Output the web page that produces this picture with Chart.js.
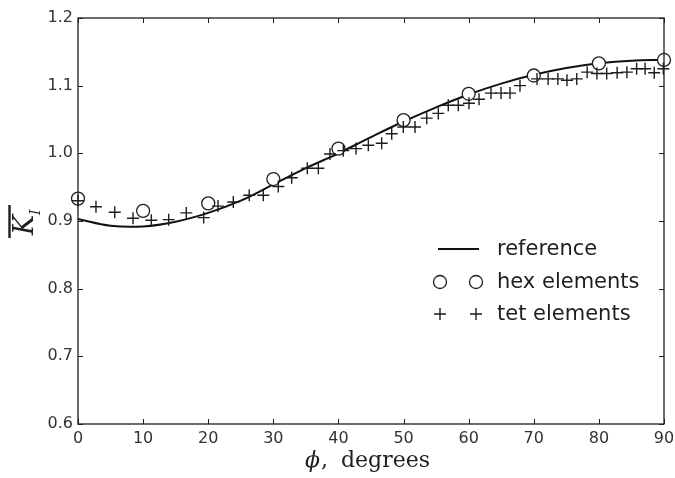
<!DOCTYPE html>
<html>
<head>
<meta charset="utf-8">
<script src="https://cdn.jsdelivr.net/npm/chart.js@4/dist/chart.umd.min.js"></script>
<style>
html,body{margin:0;padding:0;background:#fff;}
#c{display:block;}
</style>
</head>
<body>
<canvas id="c" width="675" height="478"></canvas>
<script>
// ---- data ----
const xTicks = [0,10,20,30,40,50,60,70,80,90];
const yTicks = [0.6,0.7,0.8,0.9,1.0,1.1,1.2];

const refPhi = [0,5,10,15,20,25,30,35,40,45,50,55,60,65,70,75,80,85,90];
const refK   = [0.903,0.893,0.892,0.899,0.912,0.930,0.954,0.978,1.000,1.024,1.047,1.068,1.087,1.103,1.116,1.126,1.133,1.137,1.138];

const hexPhi = [0,10,20,30,40,50,60,70,80,90];
const hexK   = [0.933,0.915,0.926,0.962,1.007,1.049,1.088,1.115,1.133,1.138];

const tetPhi = [0.0,2.76,5.64,8.45,11.26,13.93,16.63,19.3,21.5,23.85,26.3,28.46,30.76,32.82,35.22,36.91,38.7,40.75,42.7,44.59,46.64,48.18,49.96,51.76,53.56,55.34,56.87,58.41,60.05,61.59,63.43,64.97,66.35,67.88,70.5,72.2,73.7,75.1,76.6,78.2,79.7,81.2,82.8,84.3,85.8,87.1,88.5,89.9];
const tetK   = [0.930,0.921,0.913,0.904,0.901,0.902,0.912,0.905,0.922,0.928,0.938,0.938,0.951,0.964,0.978,0.978,0.999,1.004,1.007,1.012,1.015,1.029,1.039,1.039,1.052,1.059,1.071,1.071,1.074,1.080,1.089,1.089,1.089,1.100,1.110,1.110,1.110,1.108,1.110,1.120,1.118,1.118,1.119,1.120,1.125,1.125,1.119,1.125];

const legendLabels = ['reference','hex elements','tet elements'];
const xTitleSymbol = '\u03D5';
const xTitleText = 'degrees';
const yTitleMain = 'K';
const yTitleSub = 'I';

const pts = (xs, ys) => xs.map((v,i)=>({x:v, y:ys[i]}));
const INK = '#1e1e1e';

const decor = {
  id: 'decor',
  afterDraw(chart){
    const ctx = chart.ctx, a = chart.chartArea, xs = chart.scales.x, ys = chart.scales.y;
    ctx.save();
    // frame
    ctx.strokeStyle = INK; ctx.lineWidth = 1.3;
    ctx.strokeRect(a.left, a.top, a.right - a.left, a.bottom - a.top);
    // inward ticks on all four sides
    ctx.lineWidth = 1;
    const tl = 5;
    ctx.beginPath();
    xTicks.forEach(v => {
      const p = Math.round(xs.getPixelForValue(v)) + 0.5;
      ctx.moveTo(p, a.bottom); ctx.lineTo(p, a.bottom - tl);
      ctx.moveTo(p, a.top); ctx.lineTo(p, a.top + tl);
    });
    yTicks.forEach(v => {
      const p = Math.round(ys.getPixelForValue(v)) + 0.5;
      ctx.moveTo(a.left, p); ctx.lineTo(a.left + tl, p);
      ctx.moveTo(a.right, p); ctx.lineTo(a.right - tl, p);
    });
    ctx.stroke();

    // x axis title
    ctx.fillStyle = INK;
    ctx.textBaseline = 'alphabetic';
    ctx.textAlign = 'left';
    const bx = a.left + 227, by = 467;
    ctx.font = 'italic 22px "DejaVu Serif"';
    ctx.fillText(xTitleSymbol, bx, by);
    const wphi = ctx.measureText(xTitleSymbol).width;
    ctx.font = '22px "DejaVu Serif"';
    ctx.fillText(',', bx + wphi + 1, by);
    ctx.fillText(xTitleText, bx + 36, by);

    // y axis title (rotated)
    ctx.save();
    ctx.translate(33, 235);
    ctx.rotate(-Math.PI/2);
    ctx.font = 'italic 27px "DejaVu Serif"';
    ctx.fillText(yTitleMain, 0, 0);
    ctx.font = 'italic 14px "DejaVu Serif"';
    ctx.fillText(yTitleSub, 20, 7);
    ctx.lineWidth = 2.4;
    ctx.beginPath();
    ctx.moveTo(-3, -23.5); ctx.lineTo(30, -23.5);
    ctx.stroke();
    ctx.restore();

    // legend
    const lx = a.left + 360, lx2 = lx + 38, tx = a.left + 419;
    const rows = [249, 282, 314];
    ctx.font = '21px "DejaVu Sans"';
    ctx.textBaseline = 'middle';
    ctx.fillStyle = INK;
    ctx.strokeStyle = '#111'; ctx.lineWidth = 2;
    ctx.beginPath(); ctx.moveTo(lx, rows[0]); ctx.lineTo(lx2 + 3, rows[0]); ctx.stroke();
    ctx.lineWidth = 1.3; ctx.strokeStyle = INK;
    [lx + 2, lx2].forEach(cx => {
      ctx.beginPath(); ctx.arc(cx, rows[1], 6.5, 0, Math.PI*2);
      ctx.fillStyle = '#fff'; ctx.fill(); ctx.stroke();
    });
    ctx.lineWidth = 1.4;
    [lx + 2, lx2].forEach(cx => {
      ctx.beginPath();
      ctx.moveTo(cx - 6, rows[2]); ctx.lineTo(cx + 6, rows[2]);
      ctx.moveTo(cx, rows[2] - 6); ctx.lineTo(cx, rows[2] + 6);
      ctx.stroke();
    });
    ctx.fillStyle = INK;
    legendLabels.forEach((t,i) => ctx.fillText(t, tx, rows[i] + 1));
    ctx.restore();
  }
};

new Chart(document.getElementById('c'), {
  type: 'scatter',
  data: {
    datasets: [
      { label: legendLabels[0], data: pts(refPhi, refK), showLine: true, pointRadius: 0,
        borderColor: '#111', borderWidth: 2, tension: 0.4, order: 3, clip: false },
      { label: legendLabels[1], data: pts(hexPhi, hexK), pointStyle: 'circle', pointRadius: 6.5,
        borderColor: INK, backgroundColor: '#fff', pointBorderWidth: 1.3, order: 2, clip: false },
      { label: legendLabels[2], data: pts(tetPhi, tetK), pointStyle: 'cross', pointRadius: 6,
        borderColor: INK, backgroundColor: INK, pointBorderWidth: 1.4, order: 1, clip: false }
    ]
  },
  options: {
    responsive: false,
    animation: false,
    devicePixelRatio: 1,
    layout: { padding: { left: 0, top: 18, right: 11, bottom: 0 } },
    plugins: { legend: { display: false }, tooltip: { enabled: false } },
    scales: {
      x: {
        type: 'linear', min: 0, max: 90,
        afterBuildTicks: s => { s.ticks = xTicks.map(v => ({ value: v })); },
        afterFit: s => { s.height = 54; s.paddingLeft = 0; s.paddingRight = 0; },
        ticks: { color: '#333', padding: 5, maxRotation: 0, autoSkip: false,
                 font: { family: 'DejaVu Sans', size: 16 }, callback: v => String(v) },
        grid: { display: false, drawTicks: false },
        border: { display: false }
      },
      y: {
        type: 'linear', min: 0.6, max: 1.2,
        afterBuildTicks: s => { s.ticks = yTicks.map(v => ({ value: v })); },
        afterFit: s => { s.width = 78; s.paddingTop = 0; s.paddingBottom = 0; },
        ticks: { color: '#333', padding: 5, autoSkip: false,
                 font: { family: 'DejaVu Sans', size: 16 }, callback: v => Number(v).toFixed(1) },
        grid: { display: false, drawTicks: false },
        border: { display: false }
      }
    }
  },
  plugins: [decor]
});
</script>
</body>
</html>
